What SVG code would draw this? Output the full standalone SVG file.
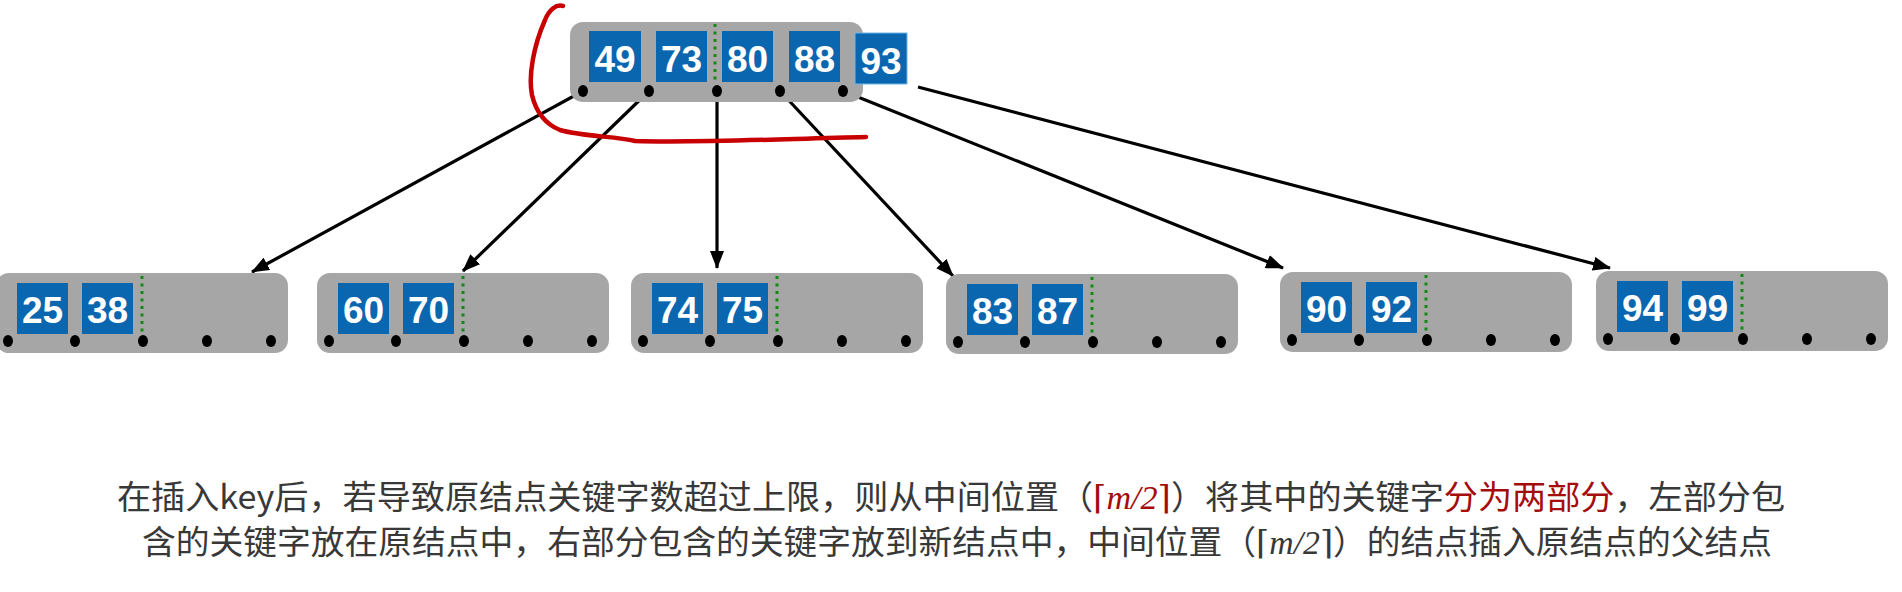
<svg xmlns="http://www.w3.org/2000/svg" width="1902" height="592" viewBox="0 0 1902 592">
<defs>
<style>
.box{fill:#a6a6a6}
.key{fill:#0b66b0}
.kt{fill:#fff;font-family:"Liberation Sans",Arial,sans-serif;font-weight:bold;font-size:37px;text-anchor:middle}
.dot{fill:#000}
.sep{stroke:#138a13;stroke-width:3;stroke-dasharray:3 4.5}
.edge{stroke:#000;stroke-width:3.2;fill:none;marker-end:url(#ah)}
.cap{font-family:"Noto Sans CJK SC","Noto Sans CJK TC",sans-serif;font-size:33px;fill:#383838}
.red{fill:#a50c0c}
.mi{font-family:"Liberation Serif","DejaVu Serif",serif;font-style:italic}
.br{font-family:"DejaVu Serif",serif}
</style>
<marker id="ah" viewBox="0 0 18 14" refX="17" refY="7" markerWidth="18" markerHeight="14" markerUnits="userSpaceOnUse" orient="auto">
<path d="M0,0 L18,7 L0,14 Z" fill="#000"/>
</marker>
<g id="cnode">
<rect class="box" x="0" y="0" width="292" height="80" rx="13"/>
<rect class="key" x="21" y="10" width="51" height="51"/>
<rect class="key" x="86" y="10" width="51" height="51"/>
<line class="sep" x1="146" y1="3" x2="146" y2="66"/>
<ellipse class="dot" cx="12" cy="68" rx="5" ry="6"/>
<ellipse class="dot" cx="79" cy="68" rx="5" ry="6"/>
<ellipse class="dot" cx="147" cy="68" rx="5" ry="6"/>
<ellipse class="dot" cx="211" cy="68" rx="5" ry="6"/>
<ellipse class="dot" cx="275" cy="68" rx="5" ry="6"/>
</g>
</defs>
<rect width="1902" height="592" fill="#fff"/>

<g id="connectors">
<line class="edge" x1="583" y1="91" x2="252" y2="272"/>
<line class="edge" x1="649" y1="91" x2="463" y2="271"/>
<line class="edge" x1="717" y1="91" x2="717" y2="268"/>
<line class="edge" x1="780" y1="91" x2="953" y2="276"/>
<line class="edge" x1="843" y1="91" x2="1283" y2="268"/>
<line class="edge" x1="918" y1="87" x2="1610" y2="268"/>
</g>

<g id="root">
<rect class="box" x="570" y="22" width="293" height="80" rx="13"/>
<rect class="key" x="589" y="31" width="52" height="51"/>
<rect class="key" x="656" y="31" width="51" height="51"/>
<rect class="key" x="722" y="31" width="51" height="51"/>
<rect class="key" x="789" y="31" width="51" height="51"/>
<rect class="key" x="855" y="33" width="52" height="51" stroke="#6fb6ea" stroke-width="1"/>
<line class="sep" x1="715" y1="24" x2="715" y2="84"/>
<text class="kt" x="615" y="72">49</text>
<text class="kt" x="681.500" y="72">73</text>
<text class="kt" x="747.500" y="72">80</text>
<text class="kt" x="814.500" y="72">88</text>
<text class="kt" x="881" y="74">93</text>
<ellipse class="dot" cx="583" cy="91" rx="5" ry="6"/>
<ellipse class="dot" cx="649" cy="91" rx="5" ry="6"/>
<ellipse class="dot" cx="717" cy="91" rx="5" ry="6"/>
<ellipse class="dot" cx="780" cy="91" rx="5" ry="6"/>
<ellipse class="dot" cx="843" cy="91" rx="5" ry="6"/>
</g>

<g id="n1" transform="translate(-4,273)"><use href="#cnode"/><text class="kt" x="46.500" y="50">25</text><text class="kt" x="111.500" y="50">38</text></g>
<g id="n2" transform="translate(317,273)"><use href="#cnode"/><text class="kt" x="46.500" y="50">60</text><text class="kt" x="111.500" y="50">70</text></g>
<g id="n3" transform="translate(631,273)"><use href="#cnode"/><text class="kt" x="46.500" y="50">74</text><text class="kt" x="111.500" y="50">75</text></g>
<g id="n4" transform="translate(946,274)"><use href="#cnode"/><text class="kt" x="46.500" y="50">83</text><text class="kt" x="111.500" y="50">87</text></g>
<g id="n5" transform="translate(1280,272)"><use href="#cnode"/><text class="kt" x="46.500" y="50">90</text><text class="kt" x="111.500" y="50">92</text></g>
<g id="n6" transform="translate(1596,271)"><use href="#cnode"/><text class="kt" x="46.500" y="50">94</text><text class="kt" x="111.500" y="50">99</text></g>

<path id="redmark" d="M563,6 C556,4 549,10 545,20 C534,45 528,75 532,95 C536,112 545,124 560,130 C585,137 615,136 635,141 C700,143 780,139 866,137" fill="none" stroke="#c80000" stroke-width="4.5" stroke-linecap="round"/>

<g id="caption">
<text class="cap" x="951" y="509" text-anchor="middle" textLength="1668" lengthAdjust="spacingAndGlyphs">在插入key后，若导致原结点关键字数超过上限，则从中间位置（<tspan class="red"><tspan class="br">⌈</tspan><tspan class="mi">m</tspan><tspan class="mi">/2</tspan><tspan class="br">⌉</tspan></tspan>）将其中的关键字<tspan class="red">分为两部分</tspan>，左部分包</text>
<text class="cap" x="957" y="554" text-anchor="middle" textLength="1630" lengthAdjust="spacingAndGlyphs">含的关键字放在原结点中，右部分包含的关键字放到新结点中，中间位置（<tspan class="br">⌈</tspan><tspan class="mi">m</tspan><tspan class="mi">/2</tspan><tspan class="br">⌉</tspan>）的结点插入原结点的父结点</text>
</g>
</svg>
